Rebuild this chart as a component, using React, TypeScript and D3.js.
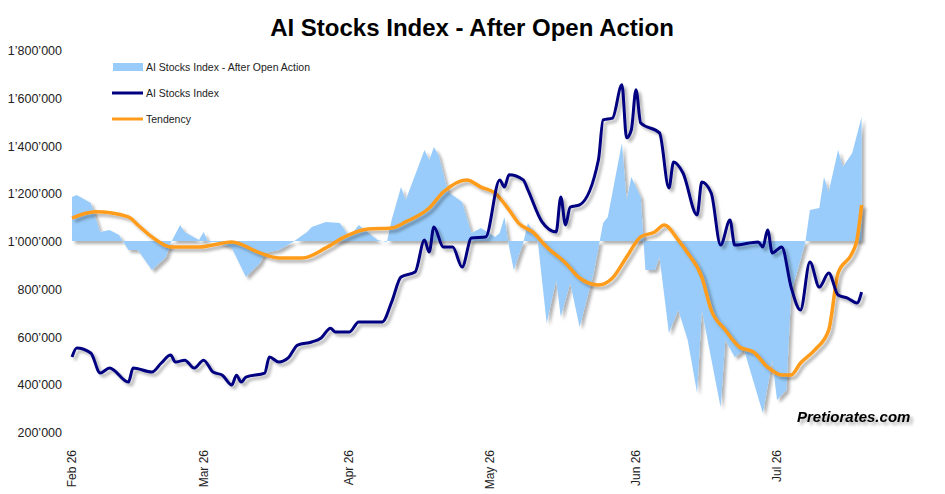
import React from "react";
import * as d3 from "d3";

const START = new Date(2025, 1, 26);
const tickLabels = ["Feb 26", "Mar 26", "Apr 26", "May 26", "Jun 26", "Jul 26"];
const tickDates = [new Date(2025,1,26), new Date(2025,2,26), new Date(2025,3,26), new Date(2025,4,26), new Date(2025,5,26), new Date(2025,6,26)];
const yTicks = [200000, 400000, 600000, 800000, 1000000, 1200000, 1400000, 1600000, 1800000];

// [day offset from Feb 26, value in thousands]
const indexSeries: [number, number][] = [
[0,514],[1,552],[4,531],[6,447],[8,468],[12,409],[13,468],[17,451],[19,489],[21,522],[22,493],[24,501],[26,468],[28,501],[30,451],[32,438],[34,397],[35,438],[36,409],[37,430],[41,447],[42,514],[44,493],[46,510],[48,564],[51,577],[53,594],[55,635],[56,619],[59,619],[61,661],[66,661],[68,744],[70,849],[73,870],[75,1004],[76,954],[77,1059],[79,975],[81,975],[83,891],[85,1013],[88,1017],[91,1256],[92,1226],[93,1277],[96,1256],[97,1214],[100,1080],[103,1038],[104,1184],[105,1067],[106,1142],[108,1151],[112,1339],[113,1507],[115,1515],[117,1654],[118,1432],[119,1465],[120,1633],[121,1494],[125,1453],[127,1222],[128,1331],[130,1285],[133,1109],[134,1247],[136,1201],[138,983],[140,1088],[141,983],[146,996],[147,975],[148,1046],[149,950],[151,975],[153,807],[155,711],[157,912],[159,807],[161,866],[163,774],[165,761],[167,740],[168,786]];

const tendency: [number, number][] = [
[0,1096],[5,1122],[12,1101],[14,1067],[17,1017],[21,975],[27,975],[34,996],[40,950],[44,929],[49,929],[54,971],[58,1017],[63,1050],[68,1054],[71,1080],[76,1138],[79,1205],[84,1256],[87,1226],[90,1201],[93,1130],[95,1075],[98,1038],[101,975],[105,908],[108,845],[112,816],[115,845],[118,933],[121,1017],[124,1038],[126,1067],[129,1004],[131,950],[134,849],[136,711],[139,627],[142,556],[145,535],[148,472],[151,439],[153,439],[155,489],[158,543],[161,627],[163,866],[166,950],[167,1004],[168,1151]];

const afterOpen: [number, number][] = [
[0,1184],[1,1193],[4,1159],[6,1038],[8,1046],[10,1025],[12,962],[14,962],[17,879],[20,933],[21,992],[23,1067],[24,1038],[27,1004],[28,1038],[29,996],[31,996],[34,971],[37,849],[40,908],[41,950],[44,962],[47,996],[50,1038],[51,1059],[54,1080],[57,1075],[59,1017],[61,1067],[65,1004],[67,996],[68,1088],[70,1226],[71,1172],[75,1381],[76,1339],[77,1394],[78,1360],[80,1205],[83,1163],[85,1034],[87,1054],[90,1017],[91,1034],[92,1101],[93,975],[94,879],[96,992],[97,1075],[99,1017],[101,656],[103,837],[104,682],[106,824],[108,640],[111,866],[113,1075],[114,1101],[117,1411],[118,1172],[119,1268],[121,1184],[122,879],[124,879],[125,933],[127,615],[129,711],[131,585],[133,363],[134,711],[138,304],[139,585],[141,514],[143,543],[147,279],[149,501],[150,334],[152,376],[153,782],[156,992],[157,1130],[159,1138],[160,1268],[161,1205],[163,1381],[164,1310],[166,1369],[168,1519]];

const day = (d: number) => d3.timeDay.offset(START, d);
const fmt = (v: number) => d3.format(",")(v).replace(/,/g, "\u2019");

export default function App() {
  const x = d3.scaleTime().domain([tickDates[0], tickDates[5]]).range([72, 777]);
  const y = d3.scaleLinear().domain([200000, 1800000]).range([432, 50]);
  const X = (p: [number, number]) => x(day(p[0]));
  const Y = (p: [number, number]) => y(p[1] * 1000);
  const area = d3.area<[number, number]>().x(X).y0(y(1000000)).y1(Y);
  const line = d3.line<[number, number]>().x(X).y(Y).curve(d3.curveMonotoneX);
  const font = "Arial, 'Liberation Sans', sans-serif";
  return (
    <svg width={945} height={494} style={{ position: "absolute", left: 0, top: 0, background: "#fff" }} fontFamily={font}>
      <defs>
        <filter id="sh" x="-10%" y="-10%" width="120%" height="130%">
          <feDropShadow dx="3" dy="3" stdDeviation="1.5" floodColor="#000" floodOpacity="0.3" />
        </filter>
      </defs>
      <text x={472} y={36} textAnchor="middle" fontSize={24} fontWeight="bold">AI Stocks Index - After Open Action</text>
      {yTicks.map(t => (
        <text key={t} x={62} y={y(t) + 5} textAnchor="end" fontSize={12.5} fill="#222">{fmt(t)}</text>
      ))}
      {tickDates.map((d, i) => (
        <text key={i} transform={`translate(${x(d) + 4},${450}) rotate(-90)`} textAnchor="end" fontSize={12} fill="#222">{tickLabels[i]}</text>
      ))}
      <path d={area(afterOpen) || ""} fill="#99ccfa" filter="url(#sh)" />
      <path d={line(tendency) || ""} fill="none" stroke="#ff9c1a" strokeWidth={3.5} filter="url(#sh)" />
      <path d={line(indexSeries) || ""} fill="none" stroke="#000080" strokeWidth={3} filter="url(#sh)" />
      <rect x={113} y={63} width={30} height={8} fill="#99ccfa" />
      <text x={146} y={71} fontSize={10.5} fill="#222">AI Stocks Index - After Open Action</text>
      <line x1={112} x2={143} y1={93} y2={93} stroke="#000080" strokeWidth={3} />
      <text x={146} y={97} fontSize={10.5} fill="#222">AI Stocks Index</text>
      <line x1={112} x2={143} y1={119} y2={119} stroke="#ff9c1a" strokeWidth={3} />
      <text x={146} y={123} fontSize={10.5} fill="#222">Tendency</text>
      <text x={797} y={422} fontSize={15} fontWeight="bold" fontStyle="italic" filter="url(#sh)">Pretiorates.com</text>
    </svg>
  );
}
